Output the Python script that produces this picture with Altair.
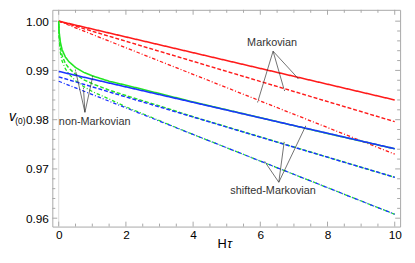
import math
import altair as alt
import pandas as pd

# ---- data ----
x_lin = [0, 10]
red_solid = [1.0000, 0.9840]
red_dash = [1.0000, 0.9796]
red_dashdot = [1.0000, 0.9730]
blue_solid = [0.9898, 0.9741]
blue_dash = [0.9887, 0.9683]
blue_dashdot = [0.9878, 0.9608]

x_nm = [0, 0.01, 0.02, 0.05, 0.1, 0.2, 0.3, 0.5, 0.75, 1, 1.5, 2, 3, 4, 6, 8, 10]
green_solid = [1.0000, 0.9980, 0.9973, 0.9957, 0.9942, 0.9927, 0.9918, 0.9906, 0.9896,
               0.9889, 0.9878, 0.9870, 0.9853, 0.9836, 0.9804, 0.9772, 0.9741]
green_dash = [1.0000, 0.9975, 0.9966, 0.9946, 0.9930, 0.9914, 0.9905, 0.9892, 0.9881,
              0.9873, 0.9860, 0.9849, 0.9828, 0.9806, 0.9765, 0.9724, 0.9683]
green_dashdot = [1.0000, 0.9966, 0.9957, 0.9936, 0.9919, 0.9903, 0.9893, 0.9879, 0.9867,
                 0.9857, 0.9842, 0.9826, 0.9798, 0.9770, 0.9716, 0.9662, 0.9608]

ann_text = ["Markovian", "non-Markovian", "shifted-Markovian"]
ann_x = [6.35, 1.07, 6.38]
ann_y = [0.99556, 0.9795, 0.9655]

arrow_x0 = [6.38, 6.38, 6.38, 0.78, 0.78, 0.78, 6.55, 6.55, 6.55]
arrow_y0 = [0.9939, 0.9939, 0.9939, 0.9815, 0.9815, 0.9815, 0.9673, 0.9673, 0.9673]
arrow_x1 = [7.08, 6.70, 5.94, 0.51, 1.00, 0.74, 6.17, 6.70, 7.32]
arrow_y1 = [0.9887, 0.9863, 0.9840, 0.9897, 0.9884, 0.9860, 0.9711, 0.9750, 0.9783]

x_major = [0, 2, 4, 6, 8, 10]
x_minor = [0.5, 1, 1.5, 2.5, 3, 3.5, 4.5, 5, 5.5, 6.5, 7, 7.5, 8.5, 9, 9.5]
y_major = [0.96, 0.97, 0.98, 0.99, 1.00]
y_minor = [0.962, 0.964, 0.966, 0.968, 0.972, 0.974, 0.976, 0.978, 0.982, 0.984,
           0.986, 0.988, 0.992, 0.994, 0.996, 0.998]

# ---- layout ----
W, H = 353, 220
XDOM = [-0.19, 10.16]
YDOM = [0.9583, 1.0023]
FONT = "Liberation Sans"
FRAME = "#a8a8a8"

xs = alt.Scale(domain=XDOM, nice=False, zero=False)
ys = alt.Scale(domain=YDOM, nice=False, zero=False)
XAX = alt.Axis(values=x_major, ticks=False, domain=False, grid=False,
               labelFont=FONT, labelFontSize=12, labelColor="#000",
               labelPadding=3, title=None, format="d")
YAX = alt.Axis(values=y_major, ticks=False, domain=False, grid=False,
               labelFont=FONT, labelFontSize=12, labelColor="#000",
               labelPadding=4, title=None, format=".2f")


def X(field):
    return alt.X(field, scale=xs, axis=XAX)


def Y(field):
    return alt.Y(field, scale=ys, axis=YAX)


def lines_df(xvals, series):
    rows = []
    for name, vals in series.items():
        for xv, yv in zip(xvals, vals):
            rows.append({"x": xv, "y": yv, "style": name})
    return pd.DataFrame(rows)


dash_scale = alt.Scale(domain=["solid", "dash", "dashdot"],
                       range=[[1, 0], [4, 2], [3.5, 2, 1, 2]])
width_scale = alt.Scale(domain=["solid", "dash", "dashdot"], range=[1.6, 1.3, 1.3])

red_df = lines_df(x_lin, {"solid": red_solid, "dash": red_dash, "dashdot": red_dashdot})
blue_df = lines_df(x_lin, {"solid": blue_solid, "dash": blue_dash, "dashdot": blue_dashdot})
green_df = lines_df(x_nm, {"solid": green_solid, "dash": green_dash, "dashdot": green_dashdot})


def family(df, color, offset=0):
    return alt.Chart(df).mark_line(color=color, strokeDashOffset=offset, clip=True).encode(
        x=X("x:Q"),
        y=Y("y:Q"),
        strokeDash=alt.StrokeDash("style:N", scale=dash_scale, legend=None),
        strokeWidth=alt.StrokeWidth("style:N", scale=width_scale, legend=None),
        detail="style:N",
    )


zero_line = alt.Chart(pd.DataFrame({"x": [0]})).mark_rule(color="#dcdcdc", strokeWidth=1).encode(
    x=X("x:Q"))


def xticks(vals, length):
    d = pd.DataFrame({"x": vals})
    b = alt.Chart(d).mark_rule(color=FRAME, strokeWidth=1).encode(
        x=X("x:Q"), y=alt.value(H), y2=alt.value(H - length))
    t = alt.Chart(d).mark_rule(color=FRAME, strokeWidth=1).encode(
        x=X("x:Q"), y=alt.value(0), y2=alt.value(length))
    return [b, t]


def yticks(vals, length):
    d = pd.DataFrame({"y": vals})
    l = alt.Chart(d).mark_rule(color=FRAME, strokeWidth=1).encode(
        y=Y("y:Q"), x=alt.value(0), x2=alt.value(length))
    r = alt.Chart(d).mark_rule(color=FRAME, strokeWidth=1).encode(
        y=Y("y:Q"), x=alt.value(W), x2=alt.value(W - length))
    return [l, r]


ticks = xticks(x_major, 5) + xticks(x_minor, 3) + yticks(y_major, 5) + yticks(y_minor, 3)

PXX = W / (XDOM[1] - XDOM[0])
PXY = H / (YDOM[1] - YDOM[0])
arr = pd.DataFrame({"x0": arrow_x0, "y0": arrow_y0, "x1": arrow_x1, "y1": arrow_y1})
arr["ang"] = [
    (math.degrees(math.atan2((c - a) * PXX, (d - b) * PXY)) + 360) % 360
    for a, b, c, d in zip(arrow_x0, arrow_y0, arrow_x1, arrow_y1)
]
arr["ang"] = (arr["ang"] + 180) % 360

arrow_lines = alt.Chart(arr).mark_rule(color="#333333", strokeWidth=0.7).encode(
    x=X("x0:Q"), y=Y("y0:Q"), x2="x1:Q", y2="y1:Q")
arrow_heads = alt.Chart(arr).mark_point(
    shape="M0,0L0.4,2L-0.4,2Z", filled=True, color="#333333", size=6, opacity=1
).encode(
    x=X("x1:Q"), y=Y("y1:Q"),
    angle=alt.Angle("ang:Q", scale=None))

labels = alt.Chart(pd.DataFrame({"t": ann_text, "x": ann_x, "y": ann_y})).mark_text(
    font=FONT, fontSize=11, color="#333333", baseline="middle", align="center"
).encode(x=X("x:Q"), y=Y("y:Q"), text="t:N")

vlab = alt.Chart(pd.DataFrame({"t": ["v"]})).mark_text(
    font=FONT, fontSize=14, fontStyle="italic", color="#000", baseline="middle", align="center"
).encode(x=alt.value(-40.5), y=alt.value(109), text="t:N")
vsub = alt.Chart(pd.DataFrame({"t": ["(0)"]})).mark_text(
    font=FONT, fontSize=8.5, color="#000", baseline="middle", align="center"
).encode(x=alt.value(-32.5), y=alt.value(113), text="t:N")
hlab = alt.Chart(pd.DataFrame({"t": ["H"]})).mark_text(
    font=FONT, fontSize=13, color="#000", baseline="alphabetic", align="right"
).encode(x=alt.value(177), y=alt.value(242), text="t:N")
taulab = alt.Chart(pd.DataFrame({"t": ["τ"]})).mark_text(
    font=FONT, fontSize=13, fontStyle="italic", color="#000", baseline="alphabetic", align="left"
).encode(x=alt.value(177.5), y=alt.value(242), text="t:N")

chart = alt.layer(
    zero_line, *ticks,
    family(red_df, "#ff1a1a"),
    family(green_df, "#22e622", offset=3),
    family(blue_df, "#1a33ff"),
    arrow_lines, arrow_heads, labels,
    vlab, vsub, hlab, taulab,
).properties(
    width=W, height=H,
    padding={"left": 45, "top": 0, "right": 7, "bottom": 27},
    autosize=alt.AutoSizeParams(type="none"),
).configure_view(stroke=FRAME, strokeWidth=1)

chart.save("out.html", embed_options={"renderer": "svg", "actions": False})
